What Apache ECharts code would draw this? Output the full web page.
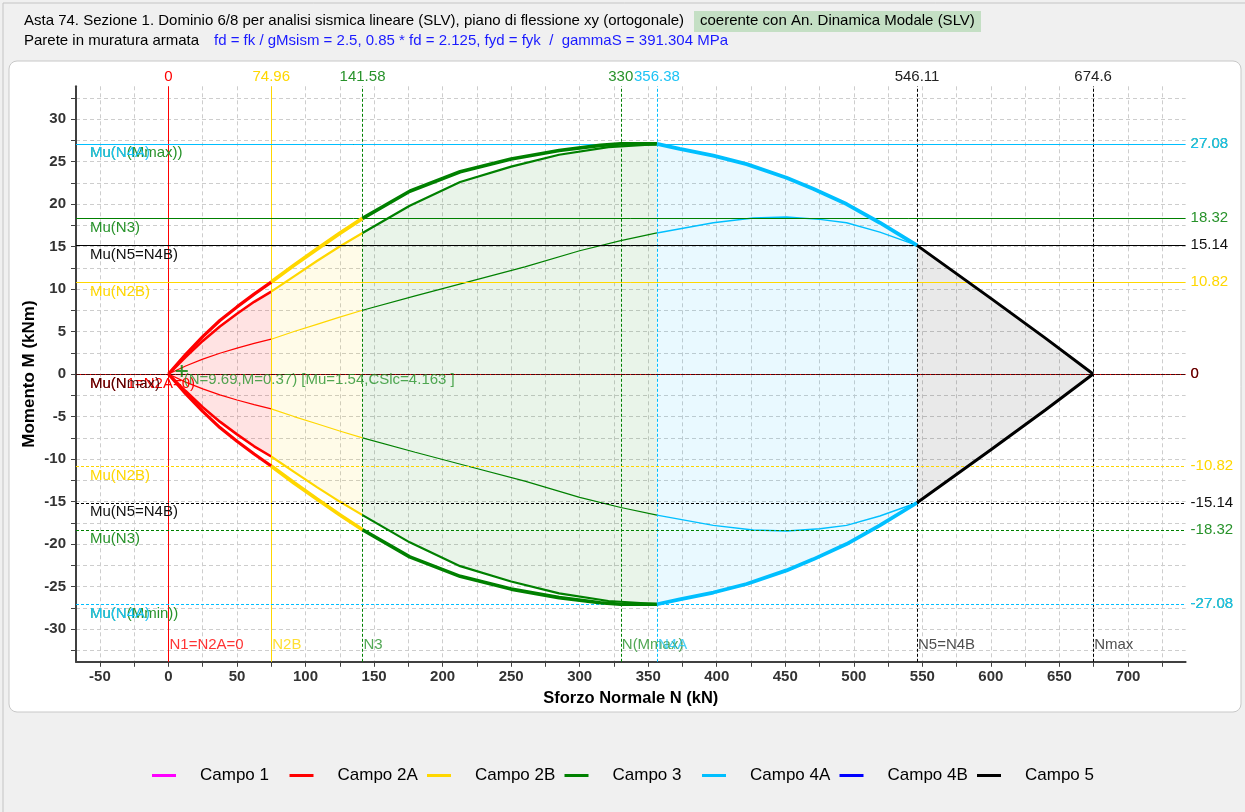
<!DOCTYPE html>
<html><head><meta charset="utf-8">
<script src="https://cdn.jsdelivr.net/npm/echarts@6/dist/echarts.min.js"></script>
<style>html,body{margin:0;padding:0;background:#f0f0f0}#c{width:1245px;height:812px}</style>
</head><body><div id="c"></div>
<script>
// ---------- tick values ----------
const xLabelValues = [-50,0,50,100,150,200,250,300,350,400,450,500,550,600,650,700];
const xTickValues = [-50,-25,0,25,50,75,100,125,150,175,200,225,250,275,300,325,350,375,400,425,450,475,500,525,550,575,600,625,650,675,700,725];
const yLabelValues = [-30,-25,-20,-15,-10,-5,0,5,10,15,20,25,30];
const yTickValues = [-32.5,-30,-27.5,-25,-22.5,-20,-17.5,-15,-12.5,-10,-7.5,-5,-2.5,0,2.5,5,7.5,10,12.5,15,17.5,20,22.5,25,27.5,30,32.5];

// ---------- Campo 2A ----------
const N2A = [0, 12.5, 25, 37.5, 50, 62.5, 74.96];
const M2A_outer_up = [0, 2.3, 4.4, 6.3, 7.9, 9.4, 10.82];
const M2A_outer_lo = [0, -2.3, -4.4, -6.3, -7.9, -9.4, -10.82];
const M2A_mid_up = [0, 2.0, 3.9, 5.6, 7.1, 8.5, 9.7];
const M2A_mid_lo = [0, -2.0, -3.9, -5.6, -7.1, -8.5, -9.7];
const M2A_in_up = [0, 0.95, 1.75, 2.45, 3.05, 3.6, 4.1];
const M2A_in_lo = [0, -0.95, -1.75, -2.45, -3.05, -3.6, -4.1];
// ---------- Campo 2B ----------
const N2B = [74.96, 91.6, 108.3, 124.9, 141.58];
const M2B_outer_up = [10.82, 12.8, 14.7, 16.55, 18.32];
const M2B_outer_lo = [-10.82, -12.8, -14.7, -16.55, -18.32];
const M2B_mid_up = [9.7, 11.5, 13.3, 15.0, 16.6];
const M2B_mid_lo = [-9.7, -11.5, -13.3, -15.0, -16.6];
const M2B_in_up = [4.1, 5.0, 5.85, 6.7, 7.5];
const M2B_in_lo = [-4.1, -5.0, -5.85, -6.7, -7.5];
// ---------- Campo 3 ----------
const N3_outer = [141.58, 176, 212.8, 250, 285, 315, 330, 356.38];
const M3_outer_up = [18.32, 21.5, 23.8, 25.3, 26.3, 26.9, 27.08, 27.08];
const M3_outer_lo = [-18.32, -21.5, -23.8, -25.3, -26.3, -26.9, -27.08, -27.08];
const N3_mid = [141.58, 176, 212.8, 250, 285, 321, 356.38];
const M3_mid_up = [16.6, 19.8, 22.6, 24.4, 25.8, 26.7, 27.05];
const M3_mid_lo = [-16.6, -19.8, -22.6, -24.4, -25.8, -26.7, -27.05];
const N3_in = [141.58, 180, 220, 260, 300, 330, 356.38];
const M3_in_up = [7.5, 9.2, 10.9, 12.6, 14.5, 15.7, 16.6];
const M3_in_lo = [-7.5, -9.2, -10.9, -12.6, -14.5, -15.7, -16.6];
// ---------- Campo 4A ----------
const N4A_outer = [356.38, 373, 397.5, 421.8, 450.9, 470.3, 494.7, 519, 546.11];
const M4A_outer_up = [27.08, 26.5, 25.7, 24.7, 23.1, 21.8, 20.0, 17.8, 15.14];
const M4A_outer_lo = [-27.08, -26.5, -25.7, -24.7, -23.1, -21.8, -20.0, -17.8, -15.14];
const N4A_in = [356.38, 397.5, 426.6, 450.9, 475.2, 494.7, 519, 546.11];
const M4A_in_up = [16.6, 17.8, 18.35, 18.47, 18.2, 17.8, 16.7, 15.14];
const M4A_in_lo = [-16.6, -17.8, -18.35, -18.47, -18.2, -17.8, -16.7, -15.14];
// ---------- Campo 5 ----------
const N5 = [546.11, 600, 640, 674.6];
const M5_up = [15.14, 8.9, 4.2, 0];
const M5_lo = [-15.14, -8.9, -4.2, 0];

// ---------- reference lines ----------
const vLineN = [0, 74.96, 141.58, 330, 356.38, 546.11, 674.6];
const vLineTop = ['0', '74.96', '141.58', '330', '356.38', '546.11', '674.6'];
const vLineBottom = ['N1=N2A=0', 'N2B', 'N3', 'N(Mmax)', 'N4A', 'N5=N4B', 'Nmax'];
const hLineM = [27.08, 27.08, 18.32, 15.14, 10.82, 0, 0, -10.82, -15.14, -18.32, -27.08, -27.08];
const hLineRight = ['27.08', '27.08', '18.32', '15.14', '10.82', '0', '0', '-10.82', '-15.14', '-18.32', '-27.08', '-27.08'];
const hLineLeft = ['Mu(N(Mmax))', 'Mu(N4A)', 'Mu(N3)', 'Mu(N5=N4B)', 'Mu(N2B)', 'Mu(N1=N2A=0)', 'Mu(Nmax)', 'Mu(N2B)', 'Mu(N5=N4B)', 'Mu(N3)', 'Mu(N(Mmin))', 'Mu(N4A)'];
// ---------- check point ----------
const pointN = 9.69, pointM = 0.37, pointMu = 1.54, pointCS = 4.163;
const legendNames = ['Campo 1', 'Campo 2A', 'Campo 2B', 'Campo 3', 'Campo 4A', 'Campo 4B', 'Campo 5'];

// ---------- styles ----------
const RED = '#ff0000', GOLD = '#ffd700', GREEN = '#008000', CYAN = '#00bfff', BLACK = '#000000';
const TGREEN = '#27922a', TCYAN = '#1cc3f5', DRED = '#4a0808';
const legendColors = ['#ff00ff', RED, GOLD, GREEN, CYAN, '#0000ff', BLACK];
const vColors = [RED, GOLD, GREEN, GREEN, CYAN, BLACK, BLACK];
const vTextColors = [RED, GOLD, TGREEN, TGREEN, TCYAN, '#222', '#222'];
const vTypes = ['solid', 'solid', [3, 2], [3, 2], [3, 2], [3, 2], [3, 2]];
const hColors = [GREEN, CYAN, GREEN, BLACK, GOLD, RED, DRED, GOLD, BLACK, GREEN, GREEN, CYAN];
const hTextColors = [TGREEN, TCYAN, TGREEN, '#111', GOLD, RED, DRED, GOLD, '#111', TGREEN, TGREEN, TCYAN];
const hTypes = [[3, 2], 'solid', 'solid', 'solid', 'solid', 'solid', [4, 1], [3, 2], [3, 2], [3, 2], [3, 2], [3, 2]];
const FONT = 'Liberation Sans, Arial, sans-serif';
const LEGEND_LEFT = 152, LEGEND_STEP = 137.5;

function pairs(N, M) { return N.map((n, i) => [n, M[i]]); }
function line(name, N, M, color, width, z) {
  return { type: 'line', name: name, data: pairs(N, M), symbol: 'none', showSymbol: false, silent: true,
    lineStyle: { color: color, width: width }, itemStyle: { color: color }, z: z, animation: false };
}
function fill(N, M, color) {
  return { type: 'line', name: '_fill', data: pairs(N, M), symbol: 'none', showSymbol: false, silent: true,
    lineStyle: { width: 0, opacity: 0 }, areaStyle: { color: color, origin: 'auto', opacity: 1 }, z: 1, animation: false };
}

const series = [];
// fills
series.push(fill(N2A, M2A_mid_up, 'rgba(255,0,0,0.11)'), fill(N2A, M2A_mid_lo, 'rgba(255,0,0,0.11)'));
series.push(fill(N2B, M2B_mid_up, 'rgba(255,215,0,0.09)'), fill(N2B, M2B_mid_lo, 'rgba(255,215,0,0.09)'));
series.push(fill(N3_mid, M3_mid_up, 'rgba(0,128,0,0.085)'), fill(N3_mid, M3_mid_lo, 'rgba(0,128,0,0.085)'));
series.push(fill(N4A_outer, M4A_outer_up, 'rgba(0,191,255,0.085)'), fill(N4A_outer, M4A_outer_lo, 'rgba(0,191,255,0.085)'));
series.push(fill(N5, M5_up, 'rgba(0,0,0,0.085)'), fill(N5, M5_lo, 'rgba(0,0,0,0.085)'));

// reference lines (markLine carrier)
const markData = [];
vLineN.forEach((v, i) => {
  markData.push({ xAxis: v, lineStyle: { color: vColors[i], type: vTypes[i], width: 1 },
    label: { show: true, position: 'end', formatter: vLineTop[i], color: vTextColors[i], fontSize: 15, fontFamily: FONT, distance: 2 } });
});
hLineM.forEach((v, i) => {
  markData.push({ yAxis: v, lineStyle: { color: hColors[i], type: hTypes[i], width: 1 },
    label: { show: true, position: 'end', formatter: hLineRight[i], color: hTextColors[i], fontSize: 15, fontFamily: FONT, distance: 5 } });
});
hLineM.forEach((v, i) => {
  markData.push({ yAxis: v, lineStyle: { color: 'rgba(0,0,0,0)', width: 1 },
    label: { show: true, position: 'insideStartBottom', formatter: hLineLeft[i], color: hTextColors[i], fontSize: 15, fontFamily: FONT, distance: [14, 2] } });
});
series.push({ type: 'line', name: '_ref', data: [], z: 2, silent: true, animation: false,
  markLine: { silent: true, symbol: ['none', 'none'], animation: false, data: markData } });

// bottom labels of vertical lines
const Y_BOTTOM_LABEL = -31.9;
series.push({ type: 'scatter', name: '_vlab', symbolSize: 0, silent: true, z: 5, animation: false,
  data: vLineN.map((v, i) => ({ value: [v, Y_BOTTOM_LABEL],
    label: { show: true, position: 'right', distance: 1, formatter: vLineBottom[i], color: vTextColors[i], fontSize: 15, fontFamily: FONT } })) });

// curves: inner (thin), mid, outer (thick)
series.push(line('_in', N2A, M2A_in_up, RED, 1.2, 3), line('_in', N2A, M2A_in_lo, RED, 1.2, 3));
series.push(line('_in', N2B, M2B_in_up, GOLD, 1.2, 3), line('_in', N2B, M2B_in_lo, GOLD, 1.2, 3));
series.push(line('_in', N3_in, M3_in_up, GREEN, 1.2, 3), line('_in', N3_in, M3_in_lo, GREEN, 1.2, 3));
series.push(line('_in', N4A_in, M4A_in_up, CYAN, 1.4, 3), line('_in', N4A_in, M4A_in_lo, CYAN, 1.4, 3));
series.push(line('_mid', N2A, M2A_mid_up, RED, 2.6, 4), line('_mid', N2A, M2A_mid_lo, RED, 2.6, 4));
series.push(line('_mid', N2B, M2B_mid_up, GOLD, 2.2, 4), line('_mid', N2B, M2B_mid_lo, GOLD, 2.2, 4));
series.push(line('_mid', N3_mid, M3_mid_up, GREEN, 2.2, 4), line('_mid', N3_mid, M3_mid_lo, GREEN, 2.2, 4));
series.push({ type: 'line', name: 'Campo 1', data: [], itemStyle: { color: legendColors[0] }, lineStyle: { color: legendColors[0] } });
series.push(line('Campo 2A', N2A, M2A_outer_up, RED, 3.2, 5), line('Campo 2A', N2A, M2A_outer_lo, RED, 3.2, 5));
series.push(line('Campo 2B', N2B, M2B_outer_up, GOLD, 3.8, 5), line('Campo 2B', N2B, M2B_outer_lo, GOLD, 3.8, 5));
series.push(line('Campo 3', N3_outer, M3_outer_up, GREEN, 3.6, 5), line('Campo 3', N3_outer, M3_outer_lo, GREEN, 3.6, 5));
series.push(line('Campo 4A', N4A_outer, M4A_outer_up, CYAN, 3.8, 5), line('Campo 4A', N4A_outer, M4A_outer_lo, CYAN, 3.8, 5));
series.push({ type: 'line', name: 'Campo 4B', data: [], itemStyle: { color: legendColors[5] }, lineStyle: { color: legendColors[5] } });
series.push(line('Campo 5', N5, M5_up, BLACK, 3, 5), line('Campo 5', N5, M5_lo, BLACK, 3, 5));

// check point
series.push({ type: 'scatter', name: '_pt', z: 6, silent: true, animation: false,
  symbol: 'path://M5,0 L7,0 L7,5 L12,5 L12,7 L7,7 L7,12 L5,12 L5,7 L0,7 L0,5 L5,5 Z', symbolSize: 12,
  itemStyle: { color: GREEN },
  data: [[pointN, pointM]],
  label: { show: true, position: 'right', offset: [-9, 9], color: TGREEN, fontSize: 15, fontFamily: FONT,
    formatter: '(N=' + pointN + ',M=' + pointM + ') [Mu=' + pointMu + ',CSlc=' + pointCS + ' ]' } });

// one legend per item, at fixed spacing
const legends = legendNames.map((nm, i) => ({
  data: [nm], top: 767, left: LEGEND_LEFT + i * LEGEND_STEP, padding: 0, icon: 'rect', itemWidth: 24, itemHeight: 3,
  selectedMode: false, textStyle: { fontSize: 17, color: '#000', fontFamily: FONT, padding: [0, 0, 0, 19] }
}));

const chart = echarts.init(document.getElementById('c'), null, { renderer: 'canvas' });
chart.setOption({
  backgroundColor: '#f0f0f0',
  animation: false,
  textStyle: { fontFamily: FONT },
  graphic: [
    { type: 'rect', z: -20, shape: { x: 3, y: 3, width: 1260, height: 830 }, style: { fill: 'none', stroke: '#c4c4c4', lineWidth: 1 } },
    { type: 'rect', z: -10, shape: { x: 9, y: 61, width: 1232, height: 651, r: 8 }, style: { fill: '#ffffff', stroke: '#c8c8c8', lineWidth: 1 } },
    { type: 'rect', z: -5, shape: { x: 694, y: 11, width: 287, height: 21 }, style: { fill: '#c4dfc4' } },
    { type: 'text', left: 24, top: 13, style: { text: 'Asta 74. Sezione 1. Dominio 6/8 per analisi sismica lineare (SLV), piano di flessione xy (ortogonale)', fill: '#000', font: '15px ' + FONT } },
    { type: 'text', left: 700, top: 13, style: { text: 'coerente con An. Dinamica Modale (SLV)', fill: '#000', font: '15px ' + FONT } },
    { type: 'text', left: 24, top: 33, style: { text: 'Parete in muratura armata', fill: '#000', font: '15px ' + FONT } },
    { type: 'text', left: 214, top: 33, style: { text: 'fd = fk / gMsism = 2.5, 0.85 * fd = 2.125, fyd = fyk  /  gammaS = 391.304 MPa', fill: '#1a1aff', font: '15px ' + FONT } }
  ],
  grid: { left: 76, top: 86.3, width: 1109.6, height: 575.5, containLabel: false },
  legend: legends,
  xAxis: { type: 'value', min: -67.46, max: 742.06,
    axisLine: { show: true, onZero: false, lineStyle: { color: '#404040', width: 2 } },
    axisTick: { show: true, customValues: xTickValues, length: 5, lineStyle: { color: '#404040' } },
    axisLabel: { customValues: xLabelValues, fontWeight: 'bold', fontSize: 15, color: '#333', margin: 8, fontFamily: FONT },
    splitLine: { show: true, lineStyle: { color: '#cdcdcd', type: [4, 3], width: 1 } },
    name: 'Sforzo Normale N (kN)', nameLocation: 'middle', nameGap: 27,
    nameTextStyle: { fontWeight: 'bold', fontSize: 16.5, color: '#000', fontFamily: FONT } },
  yAxis: { type: 'value', min: -33.85, max: 33.85,
    axisLine: { show: true, onZero: false, lineStyle: { color: '#404040', width: 2 } },
    axisTick: { show: true, customValues: yTickValues, length: 5, lineStyle: { color: '#404040' } },
    axisLabel: { customValues: yLabelValues, fontWeight: 'bold', fontSize: 15, color: '#333', margin: 10, fontFamily: FONT },
    splitLine: { show: true, lineStyle: { color: '#cdcdcd', type: [4, 3], width: 1 } },
    name: 'Momento M (kNm)', nameLocation: 'middle', nameGap: 38, nameRotate: 90, nameMoveOverlap: false,
    nameTextStyle: { fontWeight: 'bold', fontSize: 17, color: '#000', fontFamily: FONT } },
  series: series
});
</script></body></html>
